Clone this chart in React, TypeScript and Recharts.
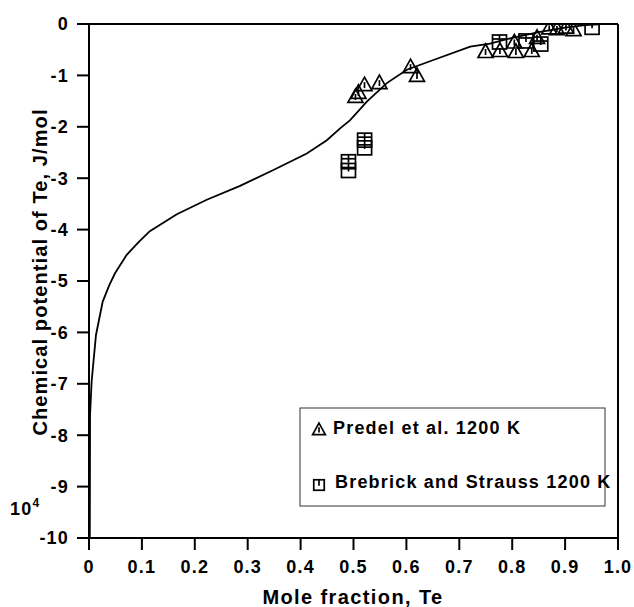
import React from 'react';
import { ComposedChart, Line, Scatter, XAxis, YAxis } from 'recharts';

// model curve, chemical potential of Te (x10^4 J/mol)
const curveX = [0.0015, 0.002, 0.005, 0.0132, 0.0259, 0.0384, 0.0492, 0.0713, 0.0933, 0.115, 0.166, 0.2226, 0.2856, 0.3486, 0.4117, 0.4496, 0.4747, 0.4937, 0.5252, 0.563, 0.6008, 0.651, 0.7206, 0.758, 0.8, 0.85, 0.9, 0.938, 0.9665, 1.0];
const curveY = [-10, -7.6, -6.95, -6.05, -5.4, -5.08, -4.85, -4.49, -4.25, -4.03, -3.7, -3.42, -3.15, -2.84, -2.52, -2.26, -2.03, -1.87, -1.51, -1.15, -0.89, -0.7, -0.44, -0.38, -0.27, -0.16, -0.07, -0.02, 0, 0];

// Predel et al. 1200 K
const predelX = [0.5037, 0.5094, 0.5208, 0.549, 0.6078, 0.62, 0.7496, 0.7768, 0.804, 0.807, 0.837, 0.847, 0.87, 0.8846, 0.9016, 0.916];
const predelY = [-1.4, -1.32, -1.17, -1.13, -0.82, -0.99, -0.525, -0.506, -0.34, -0.525, -0.506, -0.25, -0.065, -0.08, -0.05, -0.1];

// Brebrick and Strauss 1200 K
const brebrickX = [0.4905, 0.4905, 0.521, 0.521, 0.776, 0.826, 0.854, 0.951];
const brebrickY = [-2.68, -2.85, -2.26, -2.41, -0.35, -0.33, -0.39, -0.065];

const xTicks = [0, 0.1, 0.2, 0.3, 0.4, 0.5, 0.6, 0.7, 0.8, 0.9, 1.0];
const xTickLabels = ['0', '0.1', '0.2', '0.3', '0.4', '0.5', '0.6', '0.7', '0.8', '0.9', '1.0'];
const yTicks = [0, -1, -2, -3, -4, -5, -6, -7, -8, -9, -10];

const curve = curveX.map((x, i) => ({ x, y: curveY[i] }));
const predel = predelX.map((x, i) => ({ x, y: predelY[i] }));
const brebrick = brebrickX.map((x, i) => ({ x, y: brebrickY[i] }));

const FONT = 'Arial, "Liberation Sans", sans-serif';
const tickStyle = { fontSize: 18, fontWeight: 700, fill: '#000', fontFamily: FONT, letterSpacing: 1.2 };
const boldText = { fontWeight: 700, fontFamily: FONT, fill: '#000' };

const Triangle = ({ cx, cy, s = 1 }: any) => (
  <g stroke="#000" strokeWidth={1.7} fill="none">
    <path d={`M${cx},${cy - 7 * s} L${cx + 7.5 * s},${cy + 6.5 * s} L${cx - 7.5 * s},${cy + 6.5 * s} Z`} />
    <line x1={cx} y1={cy - 2 * s} x2={cx} y2={cy + 4 * s} />
  </g>
);

const Square = ({ cx, cy, s = 1 }: any) => (
  <g stroke="#000" strokeWidth={1.7} fill="none">
    <rect x={cx - 7 * s} y={cy - 7 * s} width={14 * s} height={14 * s} />
    <line x1={cx} y1={cy - 7 * s} x2={cx} y2={cy + 1 * s} />
    {s === 1 && <line x1={cx - 7} y1={cy - 3} x2={cx + 7} y2={cy - 3} />}
  </g>
);

const emptyTick = () => '';

export default function App() {
  return (
    <div style={{ position: 'absolute', left: 0, top: 0, width: 634, height: 607, background: '#fff' }}>
      <ComposedChart width={634} height={607} margin={{ top: 0, right: 0, bottom: 0, left: 0 }}>
        <XAxis
          dataKey="x"
          type="number"
          domain={[0, 1]}
          ticks={xTicks}
          tickFormatter={(v: number) => xTickLabels[xTicks.indexOf(v)] ?? String(v)}
          height={69}
          tickSize={12}
          tickMargin={10}
          stroke="#000"
          strokeWidth={2}
          tick={tickStyle}
          interval={0}
          allowDataOverflow
        />
        <XAxis
          xAxisId="top"
          orientation="top"
          dataKey="x"
          type="number"
          domain={[0, 1]}
          ticks={xTicks}
          tickFormatter={emptyTick}
          height={24}
          tickSize={12}
          stroke="#000"
          strokeWidth={2}
          interval={0}
        />
        <YAxis
          type="number"
          domain={[-10, 0]}
          ticks={yTicks}
          width={89}
          tickSize={12}
          tickMargin={8}
          stroke="#000"
          strokeWidth={2}
          tick={tickStyle}
          interval={0}
          allowDataOverflow
        />
        <YAxis
          yAxisId="right"
          orientation="right"
          type="number"
          domain={[-10, 0]}
          ticks={yTicks}
          tickFormatter={emptyTick}
          width={16}
          tickSize={12}
          stroke="#000"
          strokeWidth={2}
          interval={0}
        />
        <Line data={curve} dataKey="y" type="linear" stroke="#000" strokeWidth={1.8} dot={false} isAnimationActive={false} />
        <Scatter data={predel} dataKey="y" shape={<Triangle />} isAnimationActive={false} />
        <Scatter data={brebrick} dataKey="y" shape={<Square />} isAnimationActive={false} />
      </ComposedChart>
      <svg width={634} height={607} style={{ position: 'absolute', left: 0, top: 0, pointerEvents: 'none' }}>
        <text
          transform="translate(47,272) rotate(-90)"
          textAnchor="middle"
          style={{ ...boldText, fontSize: 20, letterSpacing: 1.1 }}
        >
          Chemical potential of Te, J/mol
        </text>
        <text x={353} y={604} textAnchor="middle" style={{ ...boldText, fontSize: 20, letterSpacing: 1.4 }}>
          Mole fraction, Te
        </text>
        <text x={10} y={515} style={{ ...boldText, fontSize: 18, letterSpacing: 1.2 }}>
          10
          <tspan dy={-8} style={{ fontSize: 12 }}>4</tspan>
        </text>
        <rect x={300} y={408} width={305} height={98} fill="#fff" stroke="#333" strokeWidth={1} />
        <Triangle cx={319} cy={429} s={0.85} />
        <text x={333} y={434} style={{ ...boldText, fontSize: 18, letterSpacing: 1.2 }}>
          Predel et al. 1200 K
        </text>
        <Square cx={319} cy={485} s={0.75} />
        <text x={335} y={488} style={{ ...boldText, fontSize: 18, letterSpacing: 1.2 }}>
          Brebrick and Strauss 1200 K
        </text>
      </svg>
    </div>
  );
}
